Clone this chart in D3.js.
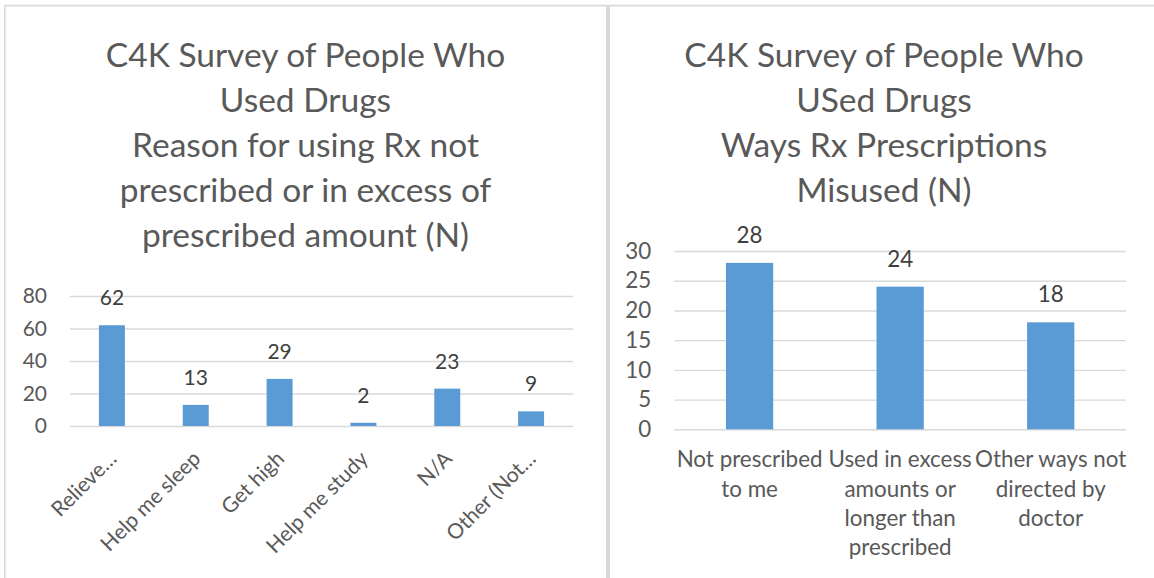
<!DOCTYPE html>
<html>
<head>
<meta charset="utf-8">
<script src="https://cdn.jsdelivr.net/npm/d3@7"></script>
<style>
  html, body { margin: 0; padding: 0; background: #ffffff; }
  svg { display: block; font-family: Lato, "Open Sans", sans-serif; }
</style>
</head>
<body>
<svg id="chart" width="1154" height="578"></svg>
<script>
// ---- data ----
const leftTitle = ["C4K Survey of People Who", "Used Drugs", "Reason for using Rx not", "prescribed or in excess of", "prescribed amount (N)"];
const leftCategories = ["Relieve…", "Help me sleep", "Get high", "Help me study", "N/A", "Other (Not…"];
const leftValues = [62, 13, 29, 2, 23, 9];
const leftTicks = [0, 20, 40, 60, 80];

const rightTitle = ["C4K Survey of People Who", "USed Drugs", "Ways Rx Prescriptions", "Misused (N)"];
const rightCategories = [
  ["Not prescribed", "to me"],
  ["Used in excess", "amounts or", "longer than", "prescribed"],
  ["Other ways not", "directed by", "doctor"]
];
const rightValues = [28, 24, 18];
const rightTicks = [0, 5, 10, 15, 20, 25, 30];

// ---- styles ----
const BAR = "#5b9bd5", GRID = "#d9d9d9", TXT = "#595959", VAL = "#404040";

const svg = d3.select("#chart");
svg.append("rect").attr("width", 1154).attr("height", 578).attr("fill", "#fff");

// frame
svg.append("line").attr("x1", 4.8).attr("x2", 4.8).attr("y1", 5).attr("y2", 578)
  .attr("stroke", GRID).attr("stroke-width", 1.6);
svg.append("line").attr("x1", 4).attr("x2", 1154).attr("y1", 5.6).attr("y2", 5.6)
  .attr("stroke", GRID).attr("stroke-width", 1.6);
svg.append("rect").attr("x", 606).attr("y", 5).attr("width", 4).attr("height", 573)
  .attr("fill", "#d9d9d9");

function title(lines, cx) {
  const t = svg.append("text").attr("text-anchor", "middle").attr("fill", TXT)
    .style("font-size", "33.5px");
  lines.forEach((l, i) => {
    t.append("tspan").attr("x", cx).attr("y", 66.7 + i * 45).text(l);
  });
}

function drawChart(opts) {
  const { categories, values, ticks, x0, x1, yTop, yBottom, maxV, fontSize, barFrac } = opts;
  const x = d3.scaleBand().domain(d3.range(categories.length)).range([x0, x1]).padding(0);
  const y = d3.scaleLinear().domain([0, maxV]).range([yBottom, yTop]);
  const g = svg.append("g");

  const ax = g.append("g").attr("transform", `translate(${x0},0)`)
    .call(d3.axisLeft(y).tickValues(ticks).tickSize(-(x1 - x0)).tickPadding(23).tickFormat(d3.format("d")));
  ax.select(".domain").remove();
  ax.selectAll(".tick line").attr("stroke", GRID).attr("stroke-width", 1.4);
  ax.selectAll(".tick text").attr("fill", TXT).style("font-size", fontSize + "px")
    .style("font-family", "Lato, sans-serif");

  const bw = x.bandwidth() * barFrac;
  g.selectAll("rect.bar").data(values).enter().append("rect")
    .attr("class", "bar")
    .attr("x", (d, i) => x(i) + x.bandwidth() / 2 - bw / 2)
    .attr("width", bw)
    .attr("y", d => y(d))
    .attr("height", d => y(0) - y(d))
    .attr("fill", BAR);

  g.selectAll("text.val").data(values).enter().append("text")
    .attr("class", "val")
    .attr("x", (d, i) => x(i) + x.bandwidth() / 2)
    .attr("y", d => y(d) - 20)
    .attr("text-anchor", "middle")
    .attr("fill", VAL)
    .style("font-size", fontSize + "px")
    .text(d => d);
  return { x, y, g };
}

// left chart
title(leftTitle, 305.5);
const L = drawChart({
  categories: leftCategories, values: leftValues, ticks: leftTicks,
  x0: 70, x1: 573, yTop: 296, yBottom: 426, maxV: 80, fontSize: 21, barFrac: 0.31
});
L.g.selectAll("text.cat").data(leftCategories).enter().append("text")
  .attr("class", "cat")
  .attr("transform", (d, i) => `translate(${L.x(i) + L.x.bandwidth() / 2 + 6},460) rotate(-45)`)
  .attr("text-anchor", "end")
  .attr("fill", TXT)
  .style("font-size", "21px")
  .text(d => d);

// right chart
title(rightTitle, 884);
const R = drawChart({
  categories: rightCategories, values: rightValues, ticks: rightTicks,
  x0: 674.3, x1: 1126, yTop: 251, yBottom: 429.3, maxV: 30, fontSize: 22.4, barFrac: 0.314
});
rightCategories.forEach((lines, i) => {
  const t = R.g.append("text").attr("text-anchor", "middle").attr("fill", TXT)
    .style("font-size", "22.4px");
  lines.forEach((l, j) => {
    t.append("tspan").attr("x", R.x(i) + R.x.bandwidth() / 2).attr("y", 467.3 + j * 29.3).text(l);
  });
});
</script>
</body>
</html>
